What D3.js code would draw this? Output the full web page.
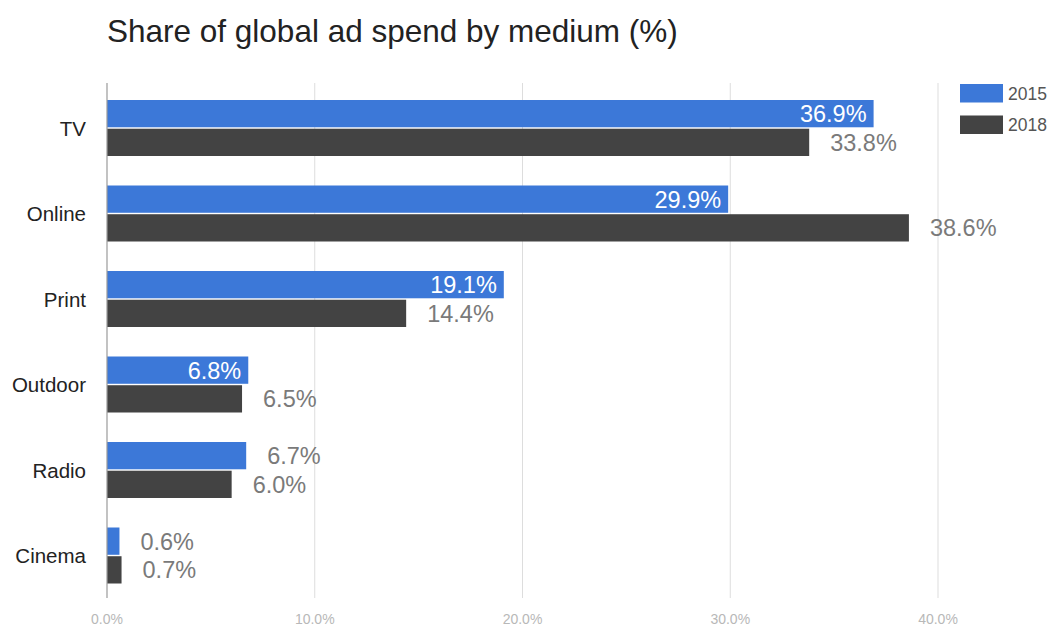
<!DOCTYPE html>
<html>
<head>
<meta charset="utf-8">
<script src="https://cdn.jsdelivr.net/npm/d3@7"></script>
<style>
  body { margin: 0; background: #fff; }
  svg { font-family: "Liberation Sans", Arial, Helvetica, sans-serif; display: block; }
</style>
</head>
<body>
<svg id="chart" width="1050" height="626"></svg>
<script>
// data
const categories = ['TV', 'Online', 'Print', 'Outdoor', 'Radio', 'Cinema'];
const seriesNames = ['2015', '2018'];
const values2015 = [36.9, 29.9, 19.1, 6.8, 6.7, 0.6];
const values2018 = [33.8, 38.6, 14.4, 6.5, 6.0, 0.7];
const xTicks = [0, 10, 20, 30, 40];

const colors = { '2015': '#3c78d8', '2018': '#434343' };

const svg = d3.select('#chart');

const x = d3.scaleLinear().domain([0, 40]).range([107, 938]);
const y = d3.scaleBand()
  .domain(categories)
  .range([85.25, 598.25])
  .paddingInner(0.345)
  .paddingOuter(0.1725);
const ySub = d3.scaleBand()
  .domain(seriesNames)
  .range([0, y.bandwidth()])
  .paddingInner(0.05);

const rows = categories.map((c, i) => ({
  category: c,
  values: [
    { series: '2015', value: values2015[i] },
    { series: '2018', value: values2018[i] }
  ]
}));

// title
svg.append('text')
  .attr('x', 107)
  .attr('y', 42)
  .attr('font-size', 31.5)
  .attr('fill', '#222')
  .text('Share of global ad spend by medium (%)');

// gridlines
svg.append('g')
  .selectAll('line')
  .data(xTicks.slice(1))
  .join('line')
  .attr('x1', d => x(d)).attr('x2', d => x(d))
  .attr('y1', 83).attr('y2', 598)
  .attr('stroke', '#dddddd')
  .attr('stroke-width', 1);

// x tick labels
svg.append('g')
  .selectAll('text')
  .data(xTicks)
  .join('text')
  .attr('x', d => x(d))
  .attr('y', 624)
  .attr('text-anchor', 'middle')
  .attr('font-size', 14)
  .attr('fill', '#b8b8b8')
  .text(d => d3.format('.1f')(d) + '%');

// bars
const groups = svg.append('g')
  .selectAll('g')
  .data(rows)
  .join('g')
  .attr('transform', d => `translate(0,${y(d.category)})`);

groups.selectAll('rect')
  .data(d => d.values)
  .join('rect')
  .attr('x', x(0))
  .attr('y', d => ySub(d.series))
  .attr('width', d => x(d.value) - x(0))
  .attr('height', ySub.bandwidth())
  .attr('fill', d => colors[d.series]);

// value labels: inside (white) when the bar is long enough, else outside (grey)
const insideMin = 6.75;
groups.selectAll('text.val')
  .data(d => d.values)
  .join('text')
  .attr('class', 'val')
  .attr('font-size', 23.5)
  .attr('y', d => ySub(d.series) + ySub.bandwidth() / 2 + 8.4)
  .attr('x', d => d.series === '2015' && d.value >= insideMin ? x(d.value) - 7 : x(d.value) + 21)
  .attr('text-anchor', d => d.series === '2015' && d.value >= insideMin ? 'end' : 'start')
  .attr('fill', d => d.series === '2015' && d.value >= insideMin ? '#ffffff' : '#7a7a7a')
  .text(d => d3.format('.1f')(d.value) + '%');

// zero axis line
svg.append('line')
  .attr('x1', x(0)).attr('x2', x(0))
  .attr('y1', 83).attr('y2', 598)
  .attr('stroke', '#9a9a9a')
  .attr('stroke-width', 1.2);

// category labels
svg.append('g')
  .selectAll('text')
  .data(categories)
  .join('text')
  .attr('x', 86)
  .attr('y', d => y(d) + y.bandwidth() / 2 + 7.5)
  .attr('text-anchor', 'end')
  .attr('font-size', 20.5)
  .attr('fill', '#222')
  .text(d => d);

// legend
const legend = svg.append('g')
  .selectAll('g')
  .data(seriesNames)
  .join('g')
  .attr('transform', (d, i) => `translate(960,${84 + i * 31.5})`);

legend.append('rect')
  .attr('width', 43)
  .attr('height', 18.5)
  .attr('fill', d => colors[d]);

legend.append('text')
  .attr('x', 48)
  .attr('y', 15.5)
  .attr('font-size', 17.5)
  .attr('fill', '#555')
  .text(d => d);
</script>
</body>
</html>
